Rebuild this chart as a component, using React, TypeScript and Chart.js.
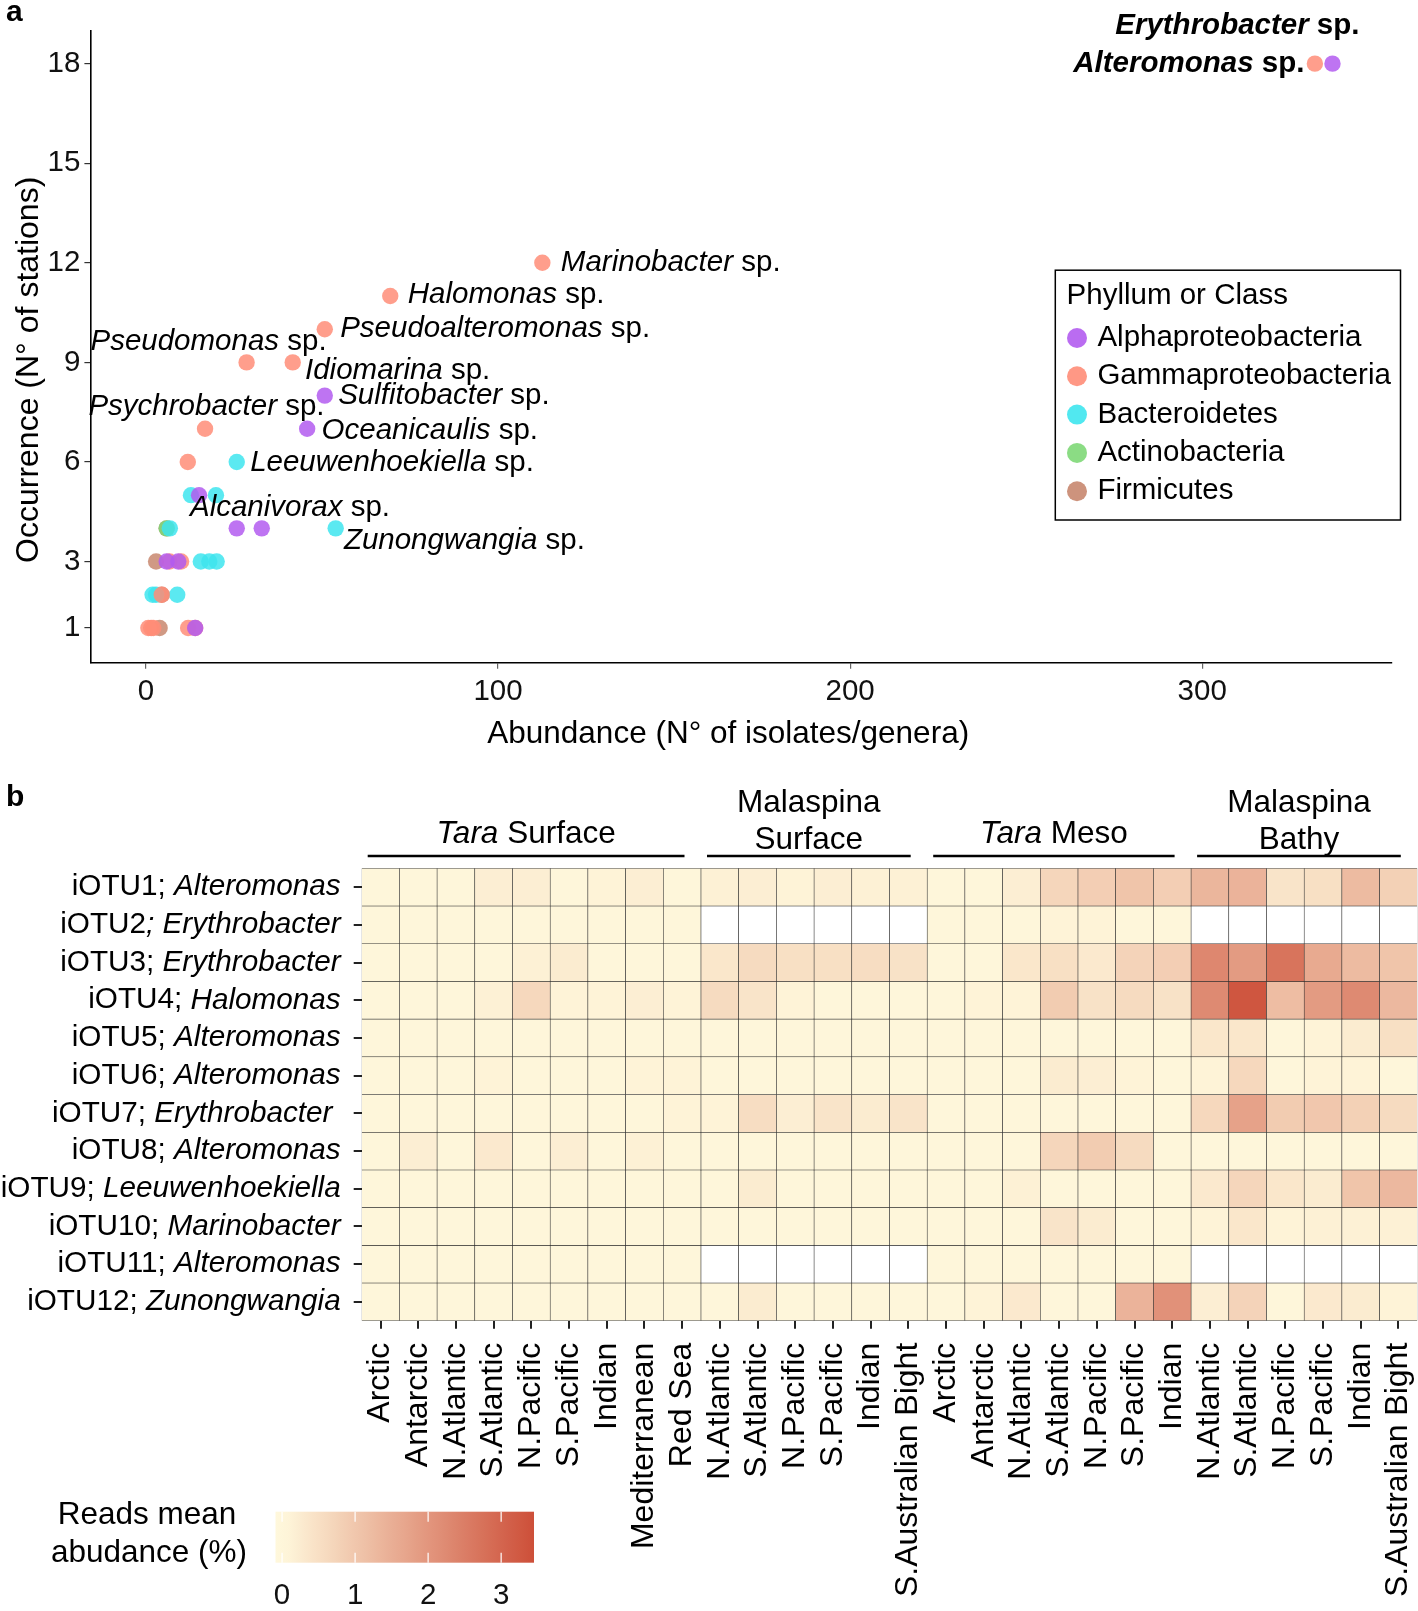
import React, { useEffect, useRef } from 'react';
import { Chart, registerables } from 'chart.js';

Chart.register(...registerables);

const FONT = "'Liberation Sans', Arial, Helvetica, sans-serif";
const FS = 29.5;

// ---------------- Panel a: scatter data ----------------
const phylumNames = ['Alphaproteobacteria', 'Gammaproteobacteria', 'Bacteroidetes', 'Actinobacteria', 'Firmicutes'];
const phylumColors = ['#B35CF0', '#FF8D78', '#3EE5EE', '#7ED877', '#C8876F'];

const alphaAbundance = [337, 50.8, 45.8, 15.1, 25.8, 32.9, 5.9, 9.2, 14.0];
const alphaOccurrence = [18, 8, 7, 5, 4, 4, 3, 3, 1];
const gammaAbundance = [332, 112.6, 69.4, 50.8, 28.6, 41.7, 16.8, 11.9, 6.7, 10.0, 4.5, 0.7, 1.5, 2.1, 12.0, 14.0];
const gammaOccurrence = [18, 12, 11, 10, 9, 9, 7, 6, 3, 3, 2, 1, 1, 1, 1, 1];
const bactAbundance = [25.8, 12.8, 19.9, 53.9, 6.8, 15.6, 18.0, 20.1, 1.9, 2.9, 8.9];
const bactOccurrence = [6, 5, 5, 4, 4, 3, 3, 3, 2, 2, 2];
const actinoAbundance = [5.9];
const actinoOccurrence = [4];
const firmAbundance = [5.9, 2.9, 4.5, 3.9];
const firmOccurrence = [4, 3, 2, 1];

const phylumX = [alphaAbundance, gammaAbundance, bactAbundance, actinoAbundance, firmAbundance];
const phylumY = [alphaOccurrence, gammaOccurrence, bactOccurrence, actinoOccurrence, firmOccurrence];

const xTickValues = [0, 100, 200, 300];
const yTickValues = [1, 3, 6, 9, 12, 15, 18];

// labelled genera (anchored to a point's values)
const labelGenus = ['Erythrobacter', 'Alteromonas', 'Marinobacter', 'Halomonas', 'Pseudoalteromonas', 'Pseudomonas', 'Idiomarina', 'Sulfitobacter', 'Psychrobacter', 'Oceanicaulis', 'Leeuwenhoekiella', 'Alcanivorax', 'Zunongwangia'];
const labelAbundance = [337, 332, 112.6, 69.4, 50.8, 28.6, 41.7, 50.8, 16.8, 45.8, 25.8, 12.8, 53.9];
const labelOccurrence = [18, 18, 12, 11, 10, 9, 9, 8, 7, 7, 6, 5, 4];
// label placement (style only)
const labelLayout: any[] = [
  { dx: 27, dy: -38, align: 'right', bold: true },
  { dx: -10.5, dy: 0, align: 'right', bold: true },
  { dx: 18.5, dy: 0 },
  { dx: 17.5, dy: -1 },
  { dx: 15.4, dy: 0 },
  { dx: 80, dy: -20.5, align: 'right' },
  { dx: 12.3, dy: 8.2 },
  { dx: 13.4, dy: 0 },
  { dx: 119.5, dy: -22, align: 'right' },
  { dx: 14.4, dy: 2 },
  { dx: 13.4, dy: 1 },
  { dx: -1, dy: 12.3 },
  { dx: 8.2, dy: 12.3 },
];

// ---------------- Panel b: heatmap data ----------------
const colLabels = ['Arctic', 'Antarctic', 'N.Atlantic', 'S.Atlantic', 'N.Pacific', 'S.Pacific', 'Indian', 'Mediterranean', 'Red Sea',
  'N.Atlantic', 'S.Atlantic', 'N.Pacific', 'S.Pacific', 'Indian', 'S.Australian Bight',
  'Arctic', 'Antarctic', 'N.Atlantic', 'S.Atlantic', 'N.Pacific', 'S.Pacific', 'Indian',
  'N.Atlantic', 'S.Atlantic', 'N.Pacific', 'S.Pacific', 'Indian', 'S.Australian Bight'];
const groupSizes = [9, 6, 7, 6];
const groupTitles: any[] = [
  [[{ t: 'Tara', italic: true }, { t: ' Surface' }]],
  [[{ t: 'Malaspina' }], [{ t: 'Surface' }]],
  [[{ t: 'Tara', italic: true }, { t: ' Meso' }]],
  [[{ t: 'Malaspina' }], [{ t: 'Bathy' }]],
];
const rowIds = ['iOTU1; ', 'iOTU2', 'iOTU3; ', 'iOTU4; ', 'iOTU5; ', 'iOTU6; ', 'iOTU7; ', 'iOTU8; ', 'iOTU9; ', 'iOTU10; ', 'iOTU11; ', 'iOTU12; '];
const rowGenera = ['Alteromonas', '; Erythrobacter', 'Erythrobacter', 'Halomonas', 'Alteromonas', 'Alteromonas', 'Erythrobacter ', 'Alteromonas', 'Leeuwenhoekiella', 'Marinobacter', 'Alteromonas', 'Zunongwangia'];

const otu1 = [0.05, 0.05, 0.05, 0.2, 0.2, 0.05, 0.1, 0.2, 0.05, 0.15, 0.2, 0.1, 0.2, 0.15, 0.15, 0.05, 0.05, 0.2, 0.7, 0.85, 1.05, 0.85, 1.35, 1.4, 0.4, 0.5, 1.25, 0.8];
const otu2 = [0.05, 0.05, 0.05, 0.05, 0.05, 0.05, 0.05, 0.05, 0.05, null, null, null, null, null, null, 0.05, 0.05, 0.05, 0.1, 0.1, 0.05, 0.05, null, null, null, null, null, null];
const otu3 = [0.05, 0.05, 0.05, 0.05, 0.15, 0.25, 0.05, 0.05, 0.05, 0.35, 0.6, 0.5, 0.5, 0.55, 0.45, 0.05, 0.05, 0.35, 0.5, 0.3, 0.75, 0.85, 2.3, 1.9, 2.7, 1.6, 1.25, 1.05];
const otu4 = [0.05, 0.05, 0.05, 0.15, 0.65, 0.1, 0.1, 0.2, 0.1, 0.6, 0.4, 0.1, 0.05, 0.05, 0.05, 0.05, 0.1, 0.1, 0.9, 0.45, 0.6, 0.45, 2.25, 3.3, 1.2, 1.9, 2.25, 1.3];
const otu5 = [0.05, 0.05, 0.05, 0.05, 0.05, 0.05, 0.05, 0.05, 0.05, 0.05, 0.05, 0.05, 0.05, 0.05, 0.05, 0.05, 0.05, 0.05, 0.05, 0.05, 0.05, 0.05, 0.35, 0.35, 0.05, 0.1, 0.25, 0.5];
const otu6 = [0.05, 0.05, 0.05, 0.1, 0.05, 0.05, 0.05, 0.1, 0.1, 0.05, 0.05, 0.05, 0.05, 0.05, 0.05, 0.05, 0.05, 0.05, 0.25, 0.2, 0.1, 0.05, 0.1, 0.65, 0.05, 0.1, 0.1, 0.05];
const otu7 = [0.05, 0.05, 0.05, 0.05, 0.05, 0.05, 0.05, 0.05, 0.1, 0.1, 0.55, 0.2, 0.4, 0.25, 0.4, 0.05, 0.05, 0.05, 0.05, 0.05, 0.05, 0.05, 0.65, 1.75, 0.9, 1.0, 0.8, 0.6];
const otu8 = [0.05, 0.2, 0.05, 0.3, 0.05, 0.2, 0.05, 0.15, 0.05, 0.05, 0.05, 0.05, 0.05, 0.05, 0.05, 0.05, 0.05, 0.05, 0.7, 0.9, 0.6, 0.05, 0.05, 0.05, 0.05, 0.05, 0.05, 0.05];
const otu9 = [0.05, 0.05, 0.05, 0.05, 0.05, 0.05, 0.05, 0.05, 0.05, 0.05, 0.25, 0.05, 0.05, 0.05, 0.05, 0.05, 0.05, 0.15, 0.05, 0.05, 0.05, 0.05, 0.3, 0.7, 0.35, 0.25, 1.05, 1.3];
const otu10 = [0.05, 0.05, 0.05, 0.05, 0.05, 0.05, 0.05, 0.05, 0.05, 0.05, 0.05, 0.05, 0.05, 0.05, 0.05, 0.05, 0.05, 0.05, 0.4, 0.25, 0.05, 0.05, 0.1, 0.35, 0.1, 0.15, 0.15, 0.15];
const otu11 = [0.05, 0.05, 0.05, 0.05, 0.05, 0.05, 0.05, 0.05, 0.05, null, null, null, null, null, null, 0.05, 0.05, 0.05, 0.05, 0.05, 0.05, 0.05, null, null, null, null, null, null];
const otu12 = [0.05, 0.05, 0.05, 0.05, 0.05, 0.05, 0.05, 0.05, 0.05, 0.05, 0.25, 0.05, 0.05, 0.05, 0.05, 0.05, 0.1, 0.3, 0.05, 0.05, 1.4, 2.1, 0.2, 0.75, 0.05, 0.3, 0.25, 0.1];
const heatValues = [otu1, otu2, otu3, otu4, otu5, otu6, otu7, otu8, otu9, otu10, otu11, otu12];

const colorbarTicks = [0, 1, 2, 3];
const VMIN = -0.09;
const VMAX = 3.45;
const LOW = [255, 248, 220];
const HIGH = [205, 79, 57];

function heatColor(v: any) {
  if (v === null || v === undefined) return '#ffffff';
  const t = Math.max(0, Math.min(1, v / VMAX));
  const c = LOW.map((l, i) => Math.round(l + (HIGH[i] - l) * t));
  return `rgb(${c[0]},${c[1]},${c[2]})`;
}

function withAlpha(hex: string, a: number) {
  const n = parseInt(hex.slice(1), 16);
  return `rgba(${(n >> 16) & 255},${(n >> 8) & 255},${n & 255},${a})`;
}

function drawRich(ctx: any, parts: any[], x: number, y: number, align: string, size: number, color = '#000') {
  ctx.save();
  ctx.textBaseline = 'middle';
  ctx.textAlign = 'left';
  ctx.fillStyle = color;
  const fonts = parts.map((p) => `${p.italic ? 'italic ' : ''}${p.bold ? 'bold ' : ''}${size}px ${FONT}`);
  const widths = parts.map((p, i) => { ctx.font = fonts[i]; return ctx.measureText(p.t).width; });
  const total = widths.reduce((a, b) => a + b, 0);
  let cx = align === 'right' ? x - total : align === 'center' ? x - total / 2 : x;
  parts.forEach((p, i) => { ctx.font = fonts[i]; ctx.fillText(p.t, cx, y); cx += widths[i]; });
  ctx.restore();
}

const panelAPlugin = {
  id: 'panelA',
  afterDraw(chart: any) {
    const ctx = chart.ctx;
    const xs = chart.scales.x;
    const ys = chart.scales.y;
    const ca = chart.chartArea;
    // point labels
    labelGenus.forEach((g, i) => {
      const L = labelLayout[i];
      const px = xs.getPixelForValue(labelAbundance[i]) + L.dx;
      const py = ys.getPixelForValue(labelOccurrence[i]) + L.dy;
      drawRich(ctx, [{ t: g, italic: true, bold: L.bold }, { t: ' sp.', bold: L.bold }], px, py, L.align || 'left', FS);
    });
    // panel label
    drawRich(ctx, [{ t: 'a', bold: true }], 6, 13, 'left', 30);
    // axis titles
    drawRich(ctx, [{ t: 'Abundance (N° of isolates/genera)' }], (ca.left + ca.right) / 2 - 13, 734.7, 'center', 31.5);
    ctx.save();
    ctx.translate(28.8, (ca.top + ca.bottom) / 2 + 23);
    ctx.rotate(-Math.PI / 2);
    drawRich(ctx, [{ t: 'Occurrence (N° of stations)' }], 0, 0, 'center', 32);
    ctx.restore();
    // legend
    const bx = 1055.3, by = 270.2, bw = 345.2, bh = 249.8;
    ctx.save();
    ctx.strokeStyle = '#000';
    ctx.lineWidth = 1.5;
    ctx.strokeRect(bx, by, bw, bh);
    ctx.restore();
    drawRich(ctx, [{ t: 'Phyllum or Class' }], 1066.6, 296, 'left', FS);
    phylumNames.forEach((name, i) => {
      const cy = 338 + i * 38.3;
      ctx.save();
      ctx.fillStyle = withAlpha(phylumColors[i], 0.9);
      ctx.beginPath();
      ctx.arc(1077, cy, 10, 0, Math.PI * 2);
      ctx.fill();
      ctx.restore();
      drawRich(ctx, [{ t: name }], 1097.4, cy, 'left', FS);
    });
  },
};

const panelBPlugin = {
  id: 'panelB',
  afterDraw(chart: any) {
    const ctx = chart.ctx;
    const xs = chart.scales.x;
    const ys = chart.scales.y;
    const ca = chart.chartArea;
    const colW = (ca.right - ca.left) / colLabels.length;
    drawRich(ctx, [{ t: 'b', bold: true }], 6, 38, 'left', 30);
    // group headers
    let start = 0;
    groupSizes.forEach((n, g) => {
      const x0 = xs.getPixelForValue(start) - colW / 2 + 6;
      const x1 = xs.getPixelForValue(start + n - 1) + colW / 2 - 16.5;
      const ly = ca.top - 12.3;
      ctx.save();
      ctx.strokeStyle = '#000';
      ctx.lineWidth = 2.5;
      ctx.beginPath();
      ctx.moveTo(x0, ly);
      ctx.lineTo(x1, ly);
      ctx.stroke();
      ctx.restore();
      const lines = groupTitles[g];
      const cx = (x0 + x1) / 2;
      if (lines.length === 1) {
        drawRich(ctx, lines[0], cx, ca.top - 34.3, 'center', 31.5);
      } else {
        drawRich(ctx, lines[0], cx, ca.top - 64.8, 'center', 31.5);
        drawRich(ctx, lines[1], cx, ca.top - 27.8, 'center', 31.5);
      }
      start += n;
    });
    // row labels
    rowIds.forEach((id, r) => {
      const py = ys.getPixelForValue(r + 0.5);
      drawRich(ctx, [{ t: id }, { t: rowGenera[r], italic: true }], ca.left - 21, py, 'right', 29.7);
    });
    // colour bar legend
    const cbx0 = 275.5, cbx1 = 534, cby0 = 751.7, cby1 = 802.7;
    const vToX = (v: number) => cbx0 + ((v - VMIN) / (VMAX - VMIN)) * (cbx1 - cbx0);
    const grad = ctx.createLinearGradient(cbx0, 0, cbx1, 0);
    for (let k = 0; k <= 20; k++) {
      const v = VMIN + ((VMAX - VMIN) * k) / 20;
      grad.addColorStop(k / 20, heatColor(Math.max(0, v)));
    }
    ctx.save();
    ctx.fillStyle = grad;
    ctx.fillRect(cbx0, cby0, cbx1 - cbx0, cby1 - cby0);
    ctx.strokeStyle = '#ffffff';
    ctx.lineWidth = 1.2;
    colorbarTicks.forEach((v) => {
      const x = vToX(v);
      ctx.beginPath();
      ctx.moveTo(x, cby0); ctx.lineTo(x, cby0 + 10);
      ctx.moveTo(x, cby1 - 10); ctx.lineTo(x, cby1);
      ctx.stroke();
    });
    ctx.restore();
    colorbarTicks.forEach((v) => {
      drawRich(ctx, [{ t: String(v) }], vToX(v), 836, 'center', FS, '#111');
    });
    drawRich(ctx, [{ t: 'Reads mean' }], 147, 755.6, 'center', 31.5);
    drawRich(ctx, [{ t: 'abudance (%)' }], 149, 793.5, 'center', 31.5);
  },
};

export default function App() {
  const aRef = useRef<HTMLCanvasElement>(null);
  const bRef = useRef<HTMLCanvasElement>(null);

  useEffect(() => {
    const scatter = new Chart(aRef.current as any, {
      type: 'scatter',
      data: {
        datasets: phylumNames.map((name, i) => ({
          label: name,
          data: phylumX[i].map((x, j) => ({ x, y: phylumY[i][j] })),
          backgroundColor: withAlpha(phylumColors[i], 0.85),
          borderWidth: 0,
          pointRadius: 8.2,
          pointHoverRadius: 8.2,
        })),
      },
      options: {
        responsive: false,
        animation: false,
        events: [],
        layout: { padding: { top: 30.8, right: 26, left: 0, bottom: 0 } },
        plugins: { legend: { display: false }, tooltip: { enabled: false } },
        scales: {
          x: {
            type: 'linear',
            min: -15.76,
            max: 353.9,
            afterBuildTicks: (s: any) => { s.ticks = xTickValues.map((v) => ({ value: v })); },
            afterFit: (s: any) => { s.height = 97.2; s.paddingLeft = 0; s.paddingRight = 0; },
            grid: { drawOnChartArea: false, drawTicks: true, tickLength: 6, color: '#666', lineWidth: 1.2 },
            border: { display: true, color: '#000', width: 1.6 },
            ticks: { font: { family: FONT, size: FS }, color: '#111', padding: 5, maxRotation: 0 },
          },
          y: {
            type: 'linear',
            min: -0.05,
            max: 18.99,
            afterBuildTicks: (s: any) => { s.ticks = yTickValues.map((v) => ({ value: v })); },
            afterFit: (s: any) => { s.width = 90.4; s.paddingTop = 0; s.paddingBottom = 0; },
            grid: { drawOnChartArea: false, drawTicks: true, tickLength: 6, color: '#333', lineWidth: 1.2 },
            border: { display: true, color: '#000', width: 1.6 },
            ticks: { font: { family: FONT, size: FS }, color: '#111', padding: 4 },
          },
        },
      } as any,
      plugins: [panelAPlugin],
    } as any);

    const heat = new Chart(bRef.current as any, {
      type: 'bar',
      data: {
        labels: colLabels,
        datasets: rowIds.map((id, r) => ({
          label: id + rowGenera[r],
          data: colLabels.map(() => [r, r + 1]),
          backgroundColor: heatValues[r].map(heatColor),
          borderColor: '#2e2e2e',
          borderWidth: 0.6,
          borderSkipped: false,
          grouped: false,
          barPercentage: 1,
          categoryPercentage: 1,
        })),
      },
      options: {
        responsive: false,
        animation: false,
        events: [],
        layout: { padding: { top: 108.3, right: 0.7, left: 0, bottom: 0 } },
        plugins: { legend: { display: false }, tooltip: { enabled: false } },
        scales: {
          x: {
            type: 'category',
            offset: true,
            afterFit: (s: any) => { s.height = 290.3; s.paddingLeft = 0; s.paddingRight = 0; },
            grid: { offset: false, drawOnChartArea: false, drawTicks: true, tickLength: 8, color: '#222', lineWidth: 2 },
            border: { display: false },
            ticks: { autoSkip: false, minRotation: 90, maxRotation: 90, padding: 14, font: { family: FONT, size: 32 }, color: '#000' },
          },
          y: {
            type: 'linear',
            min: 0,
            max: 12,
            reverse: true,
            afterBuildTicks: (s: any) => { s.ticks = rowIds.map((_, i) => ({ value: i + 0.5 })); },
            afterFit: (s: any) => { s.width = 361.7; s.paddingTop = 0; s.paddingBottom = 0; },
            grid: { drawOnChartArea: false, drawTicks: true, tickLength: 8, color: '#222', lineWidth: 2 },
            border: { display: false },
            ticks: { callback: () => '', font: { family: FONT, size: 10 } },
          },
        },
      } as any,
      plugins: [panelBPlugin],
    } as any);

    return () => {
      scatter.destroy();
      heat.destroy();
    };
  }, []);

  return (
    <div style={{ position: 'absolute', left: 0, top: 0, width: 1418, height: 1611, background: '#ffffff' }}>
      <canvas ref={aRef} width={1418} height={760} style={{ position: 'absolute', left: 0, top: 0, width: 1418, height: 760 }} />
      <canvas ref={bRef} width={1418} height={851} style={{ position: 'absolute', left: 0, top: 760, width: 1418, height: 851 }} />
    </div>
  );
}
